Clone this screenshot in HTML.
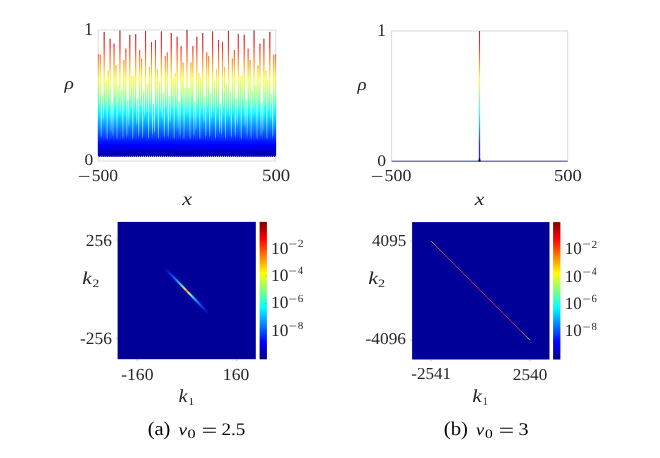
<!DOCTYPE html>
<html><head><meta charset="utf-8">
<style>html,body{margin:0;padding:0;background:#fff}svg{display:block}text{font-family:"Liberation Serif", serif;fill:#262626;text-rendering:geometricPrecision}.i{font-style:italic}.c{fill:#000}</style></head><body>
<svg width="660" height="458" viewBox="0 0 660 458">
<defs>
<linearGradient id="jA" gradientUnits="userSpaceOnUse" x1="0" y1="161" x2="0" y2="30"><stop offset="0" stop-color="rgb(0,0,128)"/><stop offset="0.125" stop-color="rgb(0,0,255)"/><stop offset="0.375" stop-color="rgb(0,255,255)"/><stop offset="0.625" stop-color="rgb(255,255,0)"/><stop offset="0.875" stop-color="rgb(255,0,0)"/><stop offset="1" stop-color="rgb(128,0,0)"/></linearGradient>
<linearGradient id="jB" gradientUnits="userSpaceOnUse" x1="0" y1="161.2" x2="0" y2="31"><stop offset="0" stop-color="rgb(0,0,128)"/><stop offset="0.125" stop-color="rgb(0,0,255)"/><stop offset="0.375" stop-color="rgb(0,255,255)"/><stop offset="0.625" stop-color="rgb(255,255,0)"/><stop offset="0.875" stop-color="rgb(255,0,0)"/><stop offset="1" stop-color="rgb(128,0,0)"/></linearGradient>
<linearGradient id="jC" gradientUnits="userSpaceOnUse" x1="0" y1="359.3" x2="0" y2="221.9"><stop offset="0" stop-color="rgb(0,0,128)"/><stop offset="0.125" stop-color="rgb(0,0,255)"/><stop offset="0.375" stop-color="rgb(0,255,255)"/><stop offset="0.625" stop-color="rgb(255,255,0)"/><stop offset="0.875" stop-color="rgb(255,0,0)"/><stop offset="1" stop-color="rgb(128,0,0)"/></linearGradient>
<linearGradient id="rg" gradientUnits="userSpaceOnUse" x1="-34" y1="0" x2="34" y2="0"><stop offset="0" stop-color="#000099" stop-opacity="0"/><stop offset="0.080" stop-color="#0820d8"/><stop offset="0.190" stop-color="#1060ff"/><stop offset="0.290" stop-color="#28b8ff"/><stop offset="0.360" stop-color="#50f0f0"/><stop offset="0.415" stop-color="#a0ffa0"/><stop offset="0.455" stop-color="#f0f070"/><stop offset="0.482" stop-color="#ffb040"/><stop offset="0.500" stop-color="#ff7028"/><stop offset="0.517" stop-color="#ffb040"/><stop offset="0.545" stop-color="#f0f070"/><stop offset="0.585" stop-color="#a0ffa0"/><stop offset="0.640" stop-color="#50f0f0"/><stop offset="0.710" stop-color="#28b8ff"/><stop offset="0.810" stop-color="#1060ff"/><stop offset="0.920" stop-color="#0820d8"/><stop offset="1" stop-color="#000099" stop-opacity="0"/></linearGradient>
<filter id="b2" x="-10%" y="-300%" width="120%" height="700%"><feGaussianBlur stdDeviation="0.3"/></filter>
<filter id="b3" x="-10%" y="-100%" width="120%" height="300%"><feGaussianBlur stdDeviation="1.2"/></filter>
<linearGradient id="lg" gradientUnits="userSpaceOnUse" x1="431.3" y1="241.3" x2="529.9" y2="340.1"><stop offset="0" stop-color="#b8d890"/><stop offset="0.015" stop-color="#f0c050"/><stop offset="0.06" stop-color="#f06838"/><stop offset="0.16" stop-color="#e83050"/><stop offset="0.84" stop-color="#e83050"/><stop offset="0.94" stop-color="#f06838"/><stop offset="0.985" stop-color="#f0c050"/><stop offset="1" stop-color="#b8d890"/></linearGradient>
</defs>
<rect width="660" height="458" fill="#fff"/>
<clipPath id="cA"><rect x="97.7" y="29.5" width="178.5" height="132"/></clipPath>
<rect x="98.2" y="30" width="177.5" height="131" fill="none" stroke="#dcdcdc" stroke-width="1"/>
<filter id="bl" x="-5%" y="-5%" width="110%" height="110%"><feGaussianBlur stdDeviation="0.33 0.3"/></filter>
<rect x="98.2" y="139.385" width="177.5" height="15.72" fill="url(#jA)"/>
<g clip-path="url(#cA)"><polygon filter="url(#bl)" fill="url(#jA)" stroke="url(#jA)" stroke-width="0.6" stroke-linejoin="miter" points="97.72,134.81 98.23,88.95 98.26,53.94 98.29,88.95 98.80,104.57 99.13,108.50 99.25,156.55 99.37,108.50 99.70,104.57 100.20,88.95 100.23,54.84 100.26,88.95 100.77,134.93 101.10,138.86 101.22,156.55 101.34,138.86 101.67,134.93 102.17,101.07 102.20,94.41 102.23,101.07 102.74,117.74 103.07,121.67 103.19,156.55 103.31,121.67 103.64,117.74 104.15,88.95 104.18,31.92 104.21,88.95 104.71,107.46 105.04,111.39 105.16,156.55 105.28,111.39 105.61,107.46 106.12,88.95 106.15,80.71 106.18,88.95 106.68,136.70 107.01,140.63 107.13,156.55 107.25,140.63 107.58,136.70 108.09,88.95 108.12,70.90 108.15,88.95 108.66,105.20 108.99,109.13 109.11,156.55 109.23,109.13 109.56,105.20 110.06,88.95 110.09,38.71 110.12,88.95 110.63,129.18 110.96,133.11 111.08,156.55 111.20,133.11 111.53,129.18 112.03,108.68 112.06,102.87 112.09,108.68 112.60,132.94 112.93,136.87 113.05,156.55 113.17,136.87 113.50,132.94 114.01,88.95 114.04,43.73 114.07,88.95 114.57,104.70 114.90,108.63 115.02,156.55 115.14,108.63 115.47,104.70 115.98,88.95 116.01,65.21 116.04,88.95 116.54,136.10 116.87,140.03 116.99,156.55 117.11,140.03 117.44,136.10 117.95,93.14 117.98,85.60 118.01,93.14 118.52,110.10 118.85,114.03 118.97,156.55 119.09,114.03 119.42,110.10 119.92,88.95 119.95,30.54 119.98,88.95 120.49,113.32 120.82,117.25 120.94,156.55 121.06,117.25 121.39,113.32 121.89,97.01 121.92,89.91 121.95,97.01 122.46,135.46 122.79,139.39 122.91,156.55 123.03,139.39 123.36,135.46 123.87,88.95 123.90,60.05 123.93,88.95 124.43,104.50 124.76,108.43 124.88,156.55 125.00,108.43 125.33,104.50 125.84,88.95 125.87,48.63 125.90,88.95 126.40,134.14 126.73,138.07 126.85,156.55 126.97,138.07 127.30,134.14 127.81,105.71 127.84,99.57 127.87,105.71 128.38,123.81 128.71,127.74 128.83,156.55 128.95,127.74 129.28,123.81 129.78,88.95 129.81,34.86 129.84,88.95 130.35,105.67 130.68,109.60 130.80,156.55 130.92,109.60 131.25,105.67 131.75,88.95 131.78,75.38 131.81,88.95 132.32,137.03 132.65,140.96 132.77,156.55 132.89,140.96 133.22,137.03 133.73,88.95 133.76,76.68 133.79,88.95 134.29,106.12 134.62,110.05 134.74,156.55 134.86,110.05 135.19,106.12 135.70,88.95 135.73,34.16 135.76,88.95 136.26,122.38 136.59,126.31 136.71,156.55 136.83,126.31 137.16,122.38 137.67,104.62 137.70,98.35 137.73,104.62 138.24,134.32 138.57,138.25 138.69,156.55 138.81,138.25 139.14,134.32 139.64,88.95 139.67,50.09 139.70,88.95 140.21,104.52 140.54,108.45 140.66,156.55 140.78,108.45 141.11,104.52 141.61,88.95 141.64,58.61 141.67,88.95 142.18,135.31 142.51,139.24 142.63,156.55 142.75,139.24 143.08,135.31 143.59,98.14 143.62,91.15 143.65,98.14 144.15,114.51 144.48,118.44 144.60,156.55 144.72,118.44 145.05,114.51 145.56,88.95 145.59,30.87 145.62,88.95 146.12,109.31 146.45,113.24 146.57,156.55 146.69,113.24 147.02,109.31 147.53,91.90 147.56,84.22 147.59,91.90 148.10,136.31 148.43,140.24 148.55,156.55 148.67,140.24 149.00,136.31 149.50,88.95 149.53,66.87 149.56,88.95 150.07,104.80 150.40,108.73 150.52,156.55 150.64,108.73 150.97,104.80 151.47,88.95 151.50,42.21 151.53,88.95 152.04,132.54 152.37,136.47 152.49,156.55 152.61,136.47 152.94,132.54 153.45,109.58 153.48,103.86 153.51,109.58 154.01,130.82 154.34,134.75 154.46,156.55 154.58,134.75 154.91,130.82 155.42,88.95 155.45,39.90 155.48,88.95 155.98,105.06 156.31,108.99 156.43,156.55 156.55,108.99 156.88,105.06 157.39,88.95 157.42,69.52 157.45,88.95 157.96,136.61 158.29,140.54 158.41,156.55 158.53,140.54 158.86,136.61 159.36,89.88 159.39,81.98 159.42,89.88 159.93,108.03 160.26,111.96 160.38,156.55 160.50,111.96 160.83,108.03 161.33,88.95 161.36,31.41 161.39,88.95 161.90,116.42 162.23,120.35 162.35,156.55 162.47,120.35 162.80,116.42 163.31,99.95 163.34,93.17 163.37,99.95 163.87,135.07 164.20,139.00 164.32,156.55 164.44,139.00 164.77,135.07 165.28,88.95 165.31,56.28 165.34,88.95 165.84,104.55 166.17,108.48 166.29,156.55 166.41,108.48 166.74,104.55 167.25,88.95 167.28,52.47 167.31,88.95 167.82,134.63 168.15,138.56 168.27,156.55 168.39,138.56 168.72,134.63 169.22,102.84 169.25,96.38 169.28,102.84 169.79,120.06 170.12,123.99 170.24,156.55 170.36,123.99 170.69,120.06 171.19,88.95 171.22,33.04 171.25,88.95 171.76,106.79 172.09,110.72 172.21,156.55 172.33,110.72 172.66,106.79 173.17,88.95 173.20,78.69 173.23,88.95 173.73,136.87 174.06,140.80 174.18,156.55 174.30,140.80 174.63,136.87 175.14,88.95 175.17,73.14 175.20,88.95 175.70,105.44 176.03,109.37 176.15,156.55 176.27,109.37 176.60,105.44 177.11,88.95 177.14,36.79 177.17,88.95 177.68,126.52 178.01,130.45 178.13,156.55 178.25,130.45 178.58,126.52 179.08,107.23 179.11,101.25 179.14,107.23 179.65,133.58 179.98,137.51 180.10,156.55 180.22,137.51 180.55,133.58 181.05,88.95 181.08,46.20 181.11,88.95 181.62,104.53 181.95,108.46 182.07,156.55 182.19,108.46 182.52,104.53 183.03,88.95 183.06,62.52 183.09,88.95 183.59,135.76 183.92,139.69 184.04,156.55 184.16,139.69 184.49,135.76 185.00,95.16 185.03,87.84 185.06,95.16 185.56,111.37 185.89,115.30 186.01,156.55 186.13,115.30 186.46,111.37 186.97,88.95 187.00,30.00 187.03,88.95 187.54,111.37 187.87,115.30 187.99,156.55 188.11,115.30 188.44,111.37 188.94,95.16 188.97,87.84 189.00,95.16 189.51,135.76 189.84,139.69 189.96,156.55 190.08,139.69 190.41,135.76 190.91,88.95 190.94,62.52 190.97,88.95 191.48,104.53 191.81,108.46 191.93,156.55 192.05,108.46 192.38,104.53 192.89,88.95 192.92,46.20 192.95,88.95 193.45,133.58 193.78,137.51 193.90,156.55 194.02,137.51 194.35,133.58 194.86,107.23 194.89,101.25 194.92,107.23 195.42,126.52 195.75,130.45 195.87,156.55 195.99,130.45 196.32,126.52 196.83,88.95 196.86,36.79 196.89,88.95 197.40,105.44 197.73,109.37 197.85,156.55 197.97,109.37 198.30,105.44 198.80,88.95 198.83,73.14 198.86,88.95 199.37,136.87 199.70,140.80 199.82,156.55 199.94,140.80 200.27,136.87 200.77,88.95 200.80,78.69 200.83,88.95 201.34,106.79 201.67,110.72 201.79,156.55 201.91,110.72 202.24,106.79 202.75,88.95 202.78,33.04 202.81,88.95 203.31,120.06 203.64,123.99 203.76,156.55 203.88,123.99 204.21,120.06 204.72,102.84 204.75,96.38 204.78,102.84 205.28,134.63 205.61,138.56 205.73,156.55 205.85,138.56 206.18,134.63 206.69,88.95 206.72,52.47 206.75,88.95 207.26,104.55 207.59,108.48 207.71,156.55 207.83,108.48 208.16,104.55 208.66,88.95 208.69,56.28 208.72,88.95 209.23,135.07 209.56,139.00 209.68,156.55 209.80,139.00 210.13,135.07 210.63,99.95 210.66,93.17 210.69,99.95 211.20,116.42 211.53,120.35 211.65,156.55 211.77,120.35 212.10,116.42 212.61,88.95 212.64,31.41 212.67,88.95 213.17,108.03 213.50,111.96 213.62,156.55 213.74,111.96 214.07,108.03 214.58,89.88 214.61,81.98 214.64,89.88 215.14,136.61 215.47,140.54 215.59,156.55 215.71,140.54 216.04,136.61 216.55,88.95 216.58,69.52 216.61,88.95 217.12,105.06 217.45,108.99 217.57,156.55 217.69,108.99 218.02,105.06 218.52,88.95 218.55,39.90 218.58,88.95 219.09,130.82 219.42,134.75 219.54,156.55 219.66,134.75 219.99,130.82 220.49,109.58 220.52,103.86 220.55,109.58 221.06,132.54 221.39,136.47 221.51,156.55 221.63,136.47 221.96,132.54 222.47,88.95 222.50,42.21 222.53,88.95 223.03,104.80 223.36,108.73 223.48,156.55 223.60,108.73 223.93,104.80 224.44,88.95 224.47,66.87 224.50,88.95 225.00,136.31 225.33,140.24 225.45,156.55 225.57,140.24 225.90,136.31 226.41,91.90 226.44,84.22 226.47,91.90 226.98,109.31 227.31,113.24 227.43,156.55 227.55,113.24 227.88,109.31 228.38,88.95 228.41,30.87 228.44,88.95 228.95,114.51 229.28,118.44 229.40,156.55 229.52,118.44 229.85,114.51 230.35,98.14 230.38,91.15 230.41,98.14 230.92,135.31 231.25,139.24 231.37,156.55 231.49,139.24 231.82,135.31 232.33,88.95 232.36,58.61 232.39,88.95 232.89,104.52 233.22,108.45 233.34,156.55 233.46,108.45 233.79,104.52 234.30,88.95 234.33,50.09 234.36,88.95 234.86,134.32 235.19,138.25 235.31,156.55 235.43,138.25 235.76,134.32 236.27,104.62 236.30,98.35 236.33,104.62 236.84,122.38 237.17,126.31 237.29,156.55 237.41,126.31 237.74,122.38 238.24,88.95 238.27,34.16 238.30,88.95 238.81,106.12 239.14,110.05 239.26,156.55 239.38,110.05 239.71,106.12 240.21,88.95 240.24,76.68 240.27,88.95 240.78,137.03 241.11,140.96 241.23,156.55 241.35,140.96 241.68,137.03 242.19,88.95 242.22,75.38 242.25,88.95 242.75,105.67 243.08,109.60 243.20,156.55 243.32,109.60 243.65,105.67 244.16,88.95 244.19,34.86 244.22,88.95 244.72,123.81 245.05,127.74 245.17,156.55 245.29,127.74 245.62,123.81 246.13,105.71 246.16,99.57 246.19,105.71 246.70,134.14 247.03,138.07 247.15,156.55 247.27,138.07 247.60,134.14 248.10,88.95 248.13,48.63 248.16,88.95 248.67,104.50 249.00,108.43 249.12,156.55 249.24,108.43 249.57,104.50 250.07,88.95 250.10,60.05 250.13,88.95 250.64,135.46 250.97,139.39 251.09,156.55 251.21,139.39 251.54,135.46 252.05,97.01 252.08,89.91 252.11,97.01 252.61,113.32 252.94,117.25 253.06,156.55 253.18,117.25 253.51,113.32 254.02,88.95 254.05,30.54 254.08,88.95 254.58,110.10 254.91,114.03 255.03,156.55 255.15,114.03 255.48,110.10 255.99,93.14 256.02,85.60 256.05,93.14 256.56,136.10 256.89,140.03 257.01,156.55 257.13,140.03 257.46,136.10 257.96,88.95 257.99,65.21 258.02,88.95 258.53,104.70 258.86,108.63 258.98,156.55 259.10,108.63 259.43,104.70 259.93,88.95 259.96,43.73 259.99,88.95 260.50,132.94 260.83,136.87 260.95,156.55 261.07,136.87 261.40,132.94 261.91,108.68 261.94,102.87 261.97,108.68 262.47,129.18 262.80,133.11 262.92,156.55 263.04,133.11 263.37,129.18 263.88,88.95 263.91,38.71 263.94,88.95 264.44,105.20 264.77,109.13 264.89,156.55 265.01,109.13 265.34,105.20 265.85,88.95 265.88,70.90 265.91,88.95 266.42,136.70 266.75,140.63 266.87,156.55 266.99,140.63 267.32,136.70 267.82,88.95 267.85,80.71 267.88,88.95 268.39,107.46 268.72,111.39 268.84,156.55 268.96,111.39 269.29,107.46 269.79,88.95 269.82,31.92 269.85,88.95 270.36,117.74 270.69,121.67 270.81,156.55 270.93,121.67 271.26,117.74 271.77,101.07 271.80,94.41 271.83,101.07 272.33,134.93 272.66,138.86 272.78,156.55 272.90,138.86 273.23,134.93 273.74,88.95 273.77,54.84 273.80,88.95 274.30,104.57 274.63,108.50 274.75,156.55 274.87,108.50 275.20,104.57 275.71,88.95 275.74,53.94 275.77,88.95 276.28,134.81 276.09,155.50 275.39,155.50 274.75,156.94 274.12,155.50 273.42,155.50 272.78,156.94 272.15,155.50 271.45,155.50 270.81,156.94 270.17,155.50 269.47,155.50 268.84,156.94 268.20,155.50 267.50,155.50 266.87,156.94 266.23,155.50 265.53,155.50 264.89,156.94 264.26,155.50 263.56,155.50 262.92,156.94 262.29,155.50 261.59,155.50 260.95,156.94 260.31,155.50 259.61,155.50 258.98,156.94 258.34,155.50 257.64,155.50 257.01,156.94 256.37,155.50 255.67,155.50 255.03,156.94 254.40,155.50 253.70,155.50 253.06,156.94 252.43,155.50 251.73,155.50 251.09,156.94 250.45,155.50 249.75,155.50 249.12,156.94 248.48,155.50 247.78,155.50 247.15,156.94 246.51,155.50 245.81,155.50 245.17,156.94 244.54,155.50 243.84,155.50 243.20,156.94 242.57,155.50 241.87,155.50 241.23,156.94 240.59,155.50 239.89,155.50 239.26,156.94 238.62,155.50 237.92,155.50 237.29,156.94 236.65,155.50 235.95,155.50 235.31,156.94 234.68,155.50 233.98,155.50 233.34,156.94 232.71,155.50 232.01,155.50 231.37,156.94 230.73,155.50 230.03,155.50 229.40,156.94 228.76,155.50 228.06,155.50 227.43,156.94 226.79,155.50 226.09,155.50 225.45,156.94 224.82,155.50 224.12,155.50 223.48,156.94 222.85,155.50 222.15,155.50 221.51,156.94 220.87,155.50 220.17,155.50 219.54,156.94 218.90,155.50 218.20,155.50 217.57,156.94 216.93,155.50 216.23,155.50 215.59,156.94 214.96,155.50 214.26,155.50 213.62,156.94 212.99,155.50 212.29,155.50 211.65,156.94 211.01,155.50 210.31,155.50 209.68,156.94 209.04,155.50 208.34,155.50 207.71,156.94 207.07,155.50 206.37,155.50 205.73,156.94 205.10,155.50 204.40,155.50 203.76,156.94 203.13,155.50 202.43,155.50 201.79,156.94 201.15,155.50 200.45,155.50 199.82,156.94 199.18,155.50 198.48,155.50 197.85,156.94 197.21,155.50 196.51,155.50 195.87,156.94 195.24,155.50 194.54,155.50 193.90,156.94 193.27,155.50 192.57,155.50 191.93,156.94 191.29,155.50 190.59,155.50 189.96,156.94 189.32,155.50 188.62,155.50 187.99,156.94 187.35,155.50 186.65,155.50 186.01,156.94 185.38,155.50 184.68,155.50 184.04,156.94 183.41,155.50 182.71,155.50 182.07,156.94 181.43,155.50 180.73,155.50 180.10,156.94 179.46,155.50 178.76,155.50 178.13,156.94 177.49,155.50 176.79,155.50 176.15,156.94 175.52,155.50 174.82,155.50 174.18,156.94 173.55,155.50 172.85,155.50 172.21,156.94 171.57,155.50 170.87,155.50 170.24,156.94 169.60,155.50 168.90,155.50 168.27,156.94 167.63,155.50 166.93,155.50 166.29,156.94 165.66,155.50 164.96,155.50 164.32,156.94 163.69,155.50 162.99,155.50 162.35,156.94 161.71,155.50 161.01,155.50 160.38,156.94 159.74,155.50 159.04,155.50 158.41,156.94 157.77,155.50 157.07,155.50 156.43,156.94 155.80,155.50 155.10,155.50 154.46,156.94 153.83,155.50 153.13,155.50 152.49,156.94 151.85,155.50 151.15,155.50 150.52,156.94 149.88,155.50 149.18,155.50 148.55,156.94 147.91,155.50 147.21,155.50 146.57,156.94 145.94,155.50 145.24,155.50 144.60,156.94 143.97,155.50 143.27,155.50 142.63,156.94 141.99,155.50 141.29,155.50 140.66,156.94 140.02,155.50 139.32,155.50 138.69,156.94 138.05,155.50 137.35,155.50 136.71,156.94 136.08,155.50 135.38,155.50 134.74,156.94 134.11,155.50 133.41,155.50 132.77,156.94 132.13,155.50 131.43,155.50 130.80,156.94 130.16,155.50 129.46,155.50 128.83,156.94 128.19,155.50 127.49,155.50 126.85,156.94 126.22,155.50 125.52,155.50 124.88,156.94 124.25,155.50 123.55,155.50 122.91,156.94 122.27,155.50 121.57,155.50 120.94,156.94 120.30,155.50 119.60,155.50 118.97,156.94 118.33,155.50 117.63,155.50 116.99,156.94 116.36,155.50 115.66,155.50 115.02,156.94 114.39,155.50 113.69,155.50 113.05,156.94 112.41,155.50 111.71,155.50 111.08,156.94 110.44,155.50 109.74,155.50 109.11,156.94 108.47,155.50 107.77,155.50 107.13,156.94 106.50,155.50 105.80,155.50 105.16,156.94 104.53,155.50 103.83,155.50 103.19,156.94 102.55,155.50 101.85,155.50 101.22,156.94 100.58,155.50 99.88,155.50 99.25,156.94 98.61,155.50 97.91,155.50"/></g>
<text transform="translate(84.19,34.70) scale(0.9598,1)" font-size="18.03">1</text>
<text transform="translate(84.45,165.14) scale(1.0684,1)" font-size="16.30">0</text>
<text transform="translate(77.87,181.75) scale(1.3283,1)" font-size="17.00">−</text>
<text transform="translate(91.69,180.93) scale(1.0409,1)" font-size="16.89">500</text>
<text transform="translate(262.02,180.93) scale(1.0934,1)" font-size="17.19">500</text>
<text transform="translate(64.44,89.06) scale(1.1360,1)" font-size="17.14" class="i">ρ</text>
<text transform="translate(182.28,205.00) scale(1.1886,1)" font-size="18.70" class="i">x</text>
<rect x="391.6" y="31" width="176.1" height="130.2" fill="none" stroke="#dcdcdc" stroke-width="1"/>
<line x1="391.6" y1="161.2" x2="567.7" y2="161.2" stroke="#2828a8" stroke-width="0.85"/>
<path d="M478.6,161.2 L479.25,157.5 L479.45,31 L479.55,31 L479.75,157.5 L480.4,161.2 Z" fill="url(#jB)" stroke="url(#jB)" stroke-width="0.55"/>
<text transform="translate(377.19,35.50) scale(0.9679,1)" font-size="17.88">1</text>
<text transform="translate(377.24,165.54) scale(1.1029,1)" font-size="16.00">0</text>
<text transform="translate(370.87,182.05) scale(1.3283,1)" font-size="17.00">−</text>
<text transform="translate(384.47,181.23) scale(1.0620,1)" font-size="16.89">500</text>
<text transform="translate(554.04,181.23) scale(1.0957,1)" font-size="16.89">500</text>
<text transform="translate(357.57,89.73) scale(1.0959,1)" font-size="17.29" class="i">ρ</text>
<text transform="translate(474.87,204.80) scale(1.1926,1)" font-size="18.26" class="i">x</text>
<rect x="117.6" y="221.9" width="138.2" height="137.3" fill="#000099"/>
<g transform="translate(186.8,290.9) rotate(46)"><ellipse rx="30" ry="2.6" fill="#2050ff" opacity="0.22" filter="url(#b3)"/><path d="M-34,0 L-30,-0.5 L-12,-0.8 L0,-0.95 L12,-0.8 L30,-0.5 L34,0 L30,0.5 L12,0.8 L0,0.95 L-12,0.8 L-30,0.5 Z" fill="url(#rg)" filter="url(#b2)"/></g>
<rect x="259.6" y="221.9" width="7.3" height="137.4" fill="url(#jC)"/>
<line x1="115.8" y1="240" x2="117.4" y2="240" stroke="#888" stroke-width="0.6"/>
<line x1="115.8" y1="338.3" x2="117.4" y2="338.3" stroke="#888" stroke-width="0.6"/>
<line x1="137.3" y1="359.2" x2="137.3" y2="360.8" stroke="#888" stroke-width="0.6"/>
<line x1="236.5" y1="359.2" x2="236.5" y2="360.8" stroke="#888" stroke-width="0.6"/>
<text transform="translate(85.82,245.63) scale(1.0267,1)" font-size="16.95">256</text>
<text transform="translate(80.05,343.93) scale(1.0084,1)" font-size="17.25">-256</text>
<text transform="translate(121.14,379.53) scale(1.0444,1)" font-size="16.89">-160</text>
<text transform="translate(222.87,379.53) scale(1.0378,1)" font-size="16.89">160</text>
<text transform="translate(82.15,283.90) scale(1.1870,1)" font-size="18.13" class="i">k</text>
<text transform="translate(92.38,286.70) scale(1.2310,1)" font-size="11.17">2</text>
<text transform="translate(178.39,402.10) scale(1.1137,1)" font-size="18.27" class="i">k</text>
<text transform="translate(188.26,404.90) scale(1.1076,1)" font-size="10.76">1</text>
<text transform="translate(270.98,253.53) scale(1.0108,1)" font-size="17.19">10</text>
<text transform="translate(288.55,248.09) scale(1.2545,1)" font-size="12.00">−</text>
<text transform="translate(297.67,247.00) scale(1.0812,1)" font-size="10.87">2</text>
<text transform="translate(270.98,280.90) scale(1.0108,1)" font-size="17.19">10</text>
<text transform="translate(288.55,275.46) scale(1.2545,1)" font-size="12.00">−</text>
<text transform="translate(298.00,274.37) scale(0.9230,1)" font-size="10.95">4</text>
<text transform="translate(270.98,308.27) scale(1.0108,1)" font-size="17.19">10</text>
<text transform="translate(288.55,302.83) scale(1.2545,1)" font-size="12.00">−</text>
<text transform="translate(297.73,301.63) scale(1.0269,1)" font-size="10.71">6</text>
<text transform="translate(270.98,335.64) scale(1.0108,1)" font-size="17.19">10</text>
<text transform="translate(288.55,330.20) scale(1.2545,1)" font-size="12.00">−</text>
<text transform="translate(297.79,329.00) scale(1.0368,1)" font-size="10.67">8</text>
<line x1="265.6" y1="248.4" x2="266.9" y2="248.4" stroke="#262626" stroke-opacity="0.55" stroke-width="0.5"/>
<line x1="559.1" y1="248.7" x2="560.4" y2="248.7" stroke="#262626" stroke-opacity="0.55" stroke-width="0.5"/>
<line x1="265.6" y1="276.0" x2="266.9" y2="276.0" stroke="#262626" stroke-opacity="0.55" stroke-width="0.5"/>
<line x1="559.1" y1="276.3" x2="560.4" y2="276.3" stroke="#262626" stroke-opacity="0.55" stroke-width="0.5"/>
<line x1="265.6" y1="303.6" x2="266.9" y2="303.6" stroke="#262626" stroke-opacity="0.55" stroke-width="0.5"/>
<line x1="559.1" y1="303.9" x2="560.4" y2="303.9" stroke="#262626" stroke-opacity="0.55" stroke-width="0.5"/>
<line x1="265.6" y1="331.2" x2="266.9" y2="331.2" stroke="#262626" stroke-opacity="0.55" stroke-width="0.5"/>
<line x1="559.1" y1="331.5" x2="560.4" y2="331.5" stroke="#262626" stroke-opacity="0.55" stroke-width="0.5"/>
<rect x="412.1" y="222.1" width="137.4" height="137.4" fill="#000099"/>
<line x1="431.3" y1="241.3" x2="529.9" y2="340.1" stroke="url(#lg)" stroke-width="0.85"/>
<rect x="553.1" y="222.1" width="7.3" height="137.4" fill="url(#jC)"/>
<line x1="410.5" y1="241.2" x2="412.1" y2="241.2" stroke="#888" stroke-width="0.6"/>
<line x1="410.5" y1="340.4" x2="412.1" y2="340.4" stroke="#888" stroke-width="0.6"/>
<line x1="431" y1="359.5" x2="431" y2="361.1" stroke="#888" stroke-width="0.6"/>
<line x1="530" y1="359.5" x2="530" y2="361.1" stroke="#888" stroke-width="0.6"/>
<text transform="translate(372.06,246.23) scale(1.0223,1)" font-size="16.74">4095</text>
<text transform="translate(365.55,344.44) scale(1.0551,1)" font-size="16.44">-4096</text>
<text transform="translate(411.26,379.33) scale(1.0172,1)" font-size="16.80">-2541</text>
<text transform="translate(512.83,379.74) scale(1.0465,1)" font-size="16.44">2540</text>
<text transform="translate(368.14,284.30) scale(1.2225,1)" font-size="17.99" class="i">k</text>
<text transform="translate(377.96,287.10) scale(1.2758,1)" font-size="11.17">2</text>
<text transform="translate(472.25,402.10) scale(1.1685,1)" font-size="18.42" class="i">k</text>
<text transform="translate(482.73,404.50) scale(0.8738,1)" font-size="11.36">1</text>
<text transform="translate(564.81,254.13) scale(0.9909,1)" font-size="17.19">10</text>
<text transform="translate(582.47,248.49) scale(1.2186,1)" font-size="12.00">−</text>
<text transform="translate(591.48,247.50) scale(1.0437,1)" font-size="11.02">2</text>
<text transform="translate(564.81,281.50) scale(0.9909,1)" font-size="17.19">10</text>
<text transform="translate(582.47,275.86) scale(1.2186,1)" font-size="12.00">−</text>
<text transform="translate(591.80,274.87) scale(0.8910,1)" font-size="11.10">4</text>
<text transform="translate(564.81,308.87) scale(0.9909,1)" font-size="17.19">10</text>
<text transform="translate(582.47,303.23) scale(1.2186,1)" font-size="12.00">−</text>
<text transform="translate(591.54,302.13) scale(0.9913,1)" font-size="10.86">6</text>
<text transform="translate(564.81,336.24) scale(0.9909,1)" font-size="17.19">10</text>
<text transform="translate(582.47,330.60) scale(1.2186,1)" font-size="12.00">−</text>
<text transform="translate(591.59,329.50) scale(1.0008,1)" font-size="10.81">8</text>
<text transform="translate(147.68,435.18) scale(1.0590,1)" font-size="19.39" class="c">(a)</text>
<text transform="translate(178.51,434.84) scale(1.1782,1)" font-size="16.38" class="i c">v</text>
<text transform="translate(187.49,437.87) scale(1.2596,1)" font-size="12.89" class="c">0</text>
<text transform="translate(201.50,437.23) scale(1.3704,1)" font-size="20.40" class="c">=</text>
<text transform="translate(221.44,434.84) scale(1.0898,1)" font-size="17.56" class="c">2.5</text>
<text transform="translate(443.76,435.18) scale(1.0719,1)" font-size="19.39" class="c">(b)</text>
<text transform="translate(476.12,434.84) scale(1.1214,1)" font-size="16.38" class="i c">v</text>
<text transform="translate(484.92,437.87) scale(1.2049,1)" font-size="12.89" class="c">0</text>
<text transform="translate(498.63,437.23) scale(1.3388,1)" font-size="20.40" class="c">=</text>
<text transform="translate(518.54,435.02) scale(1.1276,1)" font-size="17.84" class="c">3</text>
</svg>
</body></html>
